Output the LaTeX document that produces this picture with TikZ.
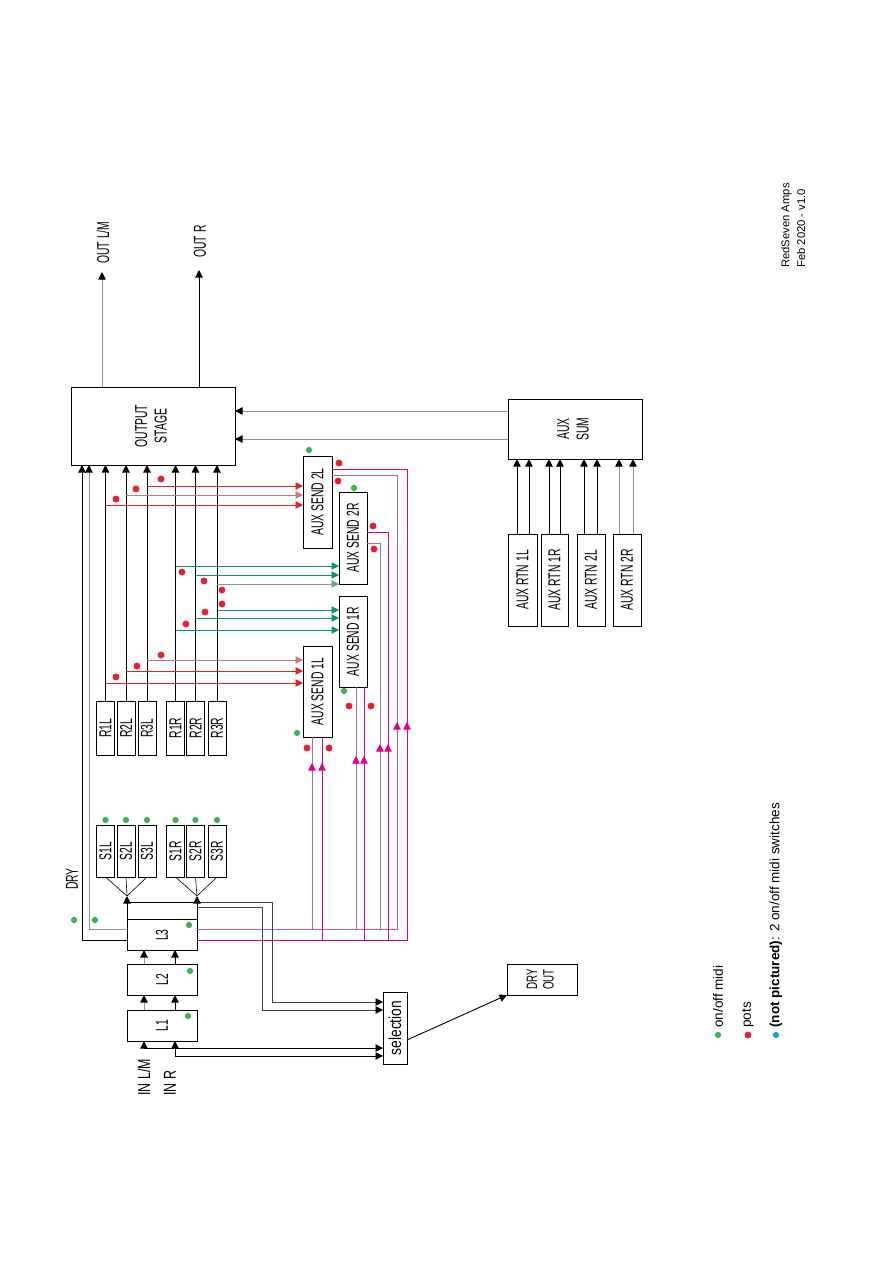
\documentclass[tikz,border=0pt]{standalone}
\usepackage{fontspec}
\setmainfont{Liberation Sans}
\usetikzlibrary{arrows.meta}

\definecolor{potred}{RGB}{232,30,40}
\definecolor{midigreen}{RGB}{60,180,75}
\definecolor{sendgreen}{RGB}{0,155,95}
\definecolor{sendmag}{RGB}{222,0,140}
\definecolor{graymag}{RGB}{175,105,150}
\definecolor{grayred}{RGB}{200,120,120}
\definecolor{graygreen}{RGB}{120,160,140}
\definecolor{midiblue}{RGB}{30,160,230}

\newcommand\pxu{0.6667pt}
\newcommand\vt[2][0.6]{\rotatebox{90}{\scalebox{#1}[1]{#2}}}
\newcommand\vtt[3][0.6]{\rotatebox{90}{\scalebox{#1}[1]{\begin{tabular}{@{}c@{}}#2\\#3\end{tabular}}}}

\tikzset{
  box/.style={draw, inner sep=0pt, outer sep=0pt, line width=0.6pt},
  sz/.style 2 args={minimum width=#1*\pxu, minimum height=#2*\pxu},
  wire/.style={line width=0.6pt},
  arr/.style={wire, -{Triangle[width=5pt,length=5pt]}},
  karr/.style={wire, -{Triangle[width=5pt,length=5pt,color=black]}},
  gwire/.style={draw=gray!85},
  redw/.style={draw=potred},
  gredw/.style={draw=grayred},
  grnw/.style={draw=sendgreen},
  ggrnw/.style={draw=graygreen},
  mag/.style={wire, draw=sendmag},
  gmag/.style={wire, draw=graymag},
  pot/.style={circle, fill=potred, inner sep=0pt, minimum size=4.6pt},
  midi/.style={circle, fill=midigreen, inner sep=0pt, minimum size=4.2pt},
  legend/.style={font=\fontsize{9}{11}\selectfont, inner sep=0pt, anchor=south}
}

\begin{document}
\begin{tikzpicture}[x=\pxu, y=-\pxu, font=\fontsize{11.5}{13}\selectfont]
  \fill[white] (0,0) rectangle (893,1263);
  \useasboundingbox (0,0) rectangle (893,1263);

  % levels used by the wiring
  \foreach \yy in {411,439,469,475,486,495,505,532,543,566,575,584,610,618,
                   630,660,671,683,722,744,756,763,907,929,940,1002,1010,1040,1048,1056}
    \coordinate (h\yy) at (0,\yy);
  \foreach \xx in {82,89,144,175,262,272,312,322,356,364,380,388,397,407,
                   517,529,549,560,584,597,619,633}
    \coordinate (v\xx) at (\xx,0);

  % main blocks
  \node[box, sz={164}{78}] (OS) at (153,426) {\vtt{OUTPUT}{STAGE}};
  \node[box, sz={134}{60}] (SUM) at (575,429) {\vtt{AUX}{SUM}};
  \node[box, sz={29}{92}] (A2L) at (317.5,502) {\vt{AUX SEND 2L}};
  \node[box, sz={28}{92}] (A2R) at (353,538) {\vt{AUX SEND 2R}};
  \node[box, sz={28}{91}] (A1R) at (353,641.5) {\vt{AUX SEND 1R}};
  \node[box, sz={29}{91}] (A1L) at (317.5,691.5) {\vt{AUX SEND 1L}};

  \foreach \nm/\xx/\ww in {1L/522.5/29, 1R/554.5/27, 2L/591/28, 2R/627/28}
    \node[box, sz={\ww}{92}] (RTN\nm) at (\xx,580) {\vt{AUX RTN \nm}};

  \foreach \nm/\xx in {1L/105.5, 2L/126, 3L/147, 1R/175.5, 2R/195.5, 3R/217} {
    \node[box, sz={18}{54}] (R\nm) at (\xx,728) {\vt{R\nm}};
    \node[box, sz={18}{52}] (S\nm) at (\xx,851) {\vt{S\nm}};
    \node[midi] (mS\nm) at (\xx,820) {};
  }

  \node[box, sz={70}{48}] (L3) at (162,926) {};
  \node (L3t) at (162,935) {\vt{L3}};
  \node[box, sz={70}{31}] (L2) at (162,979.5) {\vt{L2}};
  \node[box, sz={70}{31}] (L1) at (162,1025.5) {\vt{L1}};
  \node[box, sz={24}{72}] (SEL) at (395,1028) {\vt[0.8]{selection}};
  \node[box, sz={70}{31}, font=\fontsize{10}{11}\selectfont] (DRYOUT) at (542,979.5) {\vtt[0.65]{DRY}{OUT}};

  \coordinate (L3mid) at (162,919);
  \draw[wire] (L3.west |- L3mid) -- (L3.east |- L3mid);

  % outputs
  \coordinate (outLM) at (102,272);
  \coordinate (outR) at (199,270);
  \draw[karr, gwire] (OS.north -| outLM) -- (outLM);
  \draw[arr] (OS.north -| outR) -- (outR);
  \node[anchor=south, inner sep=0pt] (tOutLM) at (103,264) {\vt{OUT L/M}};
  \node[anchor=south, inner sep=0pt] (tOutR) at (200,258) {\vt{OUT R}};

  % into the output stage
  \draw[arr] (L3.west |- h940) -- (v82 |- h940) -- (v82 |- OS.south);
  \draw[karr, gwire] (L3.west |- h929) -- (v89 |- h929) -- (v89 |- OS.south);
  \foreach \nm in {1L,2L,3L,1R,2R,3R}
    \draw[arr] (R\nm.north) -- (R\nm.north |- OS.south);
  \draw[karr, gwire] (SUM.west |- h411) -- (OS.east |- h411);
  \draw[karr, gwire] (SUM.west |- h439) -- (OS.east |- h439);

  % aux returns
  \foreach \xa/\nm in {517/1L, 529/1L, 549/1R, 560/1R, 584/2L, 597/2L}
    \draw[arr] (v\xa |- RTN\nm.north) -- (v\xa |- SUM.south);
  \foreach \xa in {619,633}
    \draw[karr, gwire] (v\xa |- RTN2R.north) -- (v\xa |- SUM.south);

  % sends L
  \draw[arr, redw] (R3L.north |- h486) -- (A2L.west |- h486);
  \draw[arr, gredw] (R2L.north |- h495) -- (A2L.west |- h495);
  \draw[arr, redw] (R1L.north |- h505) -- (A2L.west |- h505);
  \draw[arr, gredw] (R3L.north |- h660) -- (A1L.west |- h660);
  \draw[arr, redw] (R2L.north |- h671) -- (A1L.west |- h671);
  \draw[arr, redw] (R1L.north |- h683) -- (A1L.west |- h683);

  % sends R
  \draw[arr, grnw] (R1R.north |- h566) -- (A2R.west |- h566);
  \draw[arr, grnw] (R2R.north |- h575) -- (A2R.west |- h575);
  \draw[arr, ggrnw] (R3R.north |- h584) -- (A2R.west |- h584);
  \draw[arr, grnw] (R3R.north |- h610) -- (A1R.west |- h610);
  \draw[arr, grnw] (R2R.north |- h618) -- (A1R.west |- h618);
  \draw[arr, grnw] (R1R.north |- h630) -- (A1R.west |- h630);

  % send feeds from L3
  \draw[mag] (A2L.east |- h469) -- (v407 |- h469) -- (v407 |- h940) -- (L3.east |- h940);
  \draw[gmag] (A2L.east |- h475) -- (v397 |- h475) -- (v397 |- h929) -- (L3.east |- h929);
  \draw[mag] (A2R.east |- h532) -- (v388 |- h532) -- (v388 |- h940);
  \draw[gmag] (A2R.east |- h543) -- (v380 |- h543) -- (v380 |- h929);
  \draw[gmag] (v356 |- A1R.south) -- (v356 |- h929);
  \draw[mag] (v364 |- A1R.south) -- (v364 |- h940);
  \draw[gmag] (v312 |- A1L.south) -- (v312 |- h929);
  \draw[mag] (v322 |- A1L.south) -- (v322 |- h940);
  \foreach \xa/\ya in {407/722, 397/722, 388/744, 380/744, 364/756, 356/756, 322/763, 312/763}
    \draw[mag, -{Triangle[width=5pt,length=5pt]}] (v\xa |- h\ya) ++(0,8) -- (v\xa |- h\ya);

  % L chain and inputs
  \draw[karr, gwire] (v144 |- L1.north) -- (v144 |- L2.south);
  \draw[arr] (v175 |- L1.north) -- (v175 |- L2.south);
  \draw[karr, gwire] (v144 |- L2.north) -- (v144 |- L3.south);
  \draw[arr] (v175 |- L2.north) -- (v175 |- L3.south);
  \draw[arr] (v144 |- h1048) -- (v144 |- L1.south);
  \draw[arr] (v144 |- h1048) -- (SEL.west |- h1048);
  \draw[arr] (v175 |- h1056) -- (v175 |- L1.south);
  \draw[arr] (v175 |- h1056) -- (SEL.west |- h1056);
  \node[anchor=south, inner sep=0pt] (tInLM) at (144,1096) {\vt[0.72]{IN L/M}};
  \node[anchor=south, inner sep=0pt] (tInR) at (170,1096) {\vt[0.72]{IN R}};

  % L3 to selection
  \draw[karr, draw=black!75] (L3.north east) -- (v272 |- L3.north) -- (v272 |- h1002) -- (SEL.west |- h1002);
  \draw[karr, draw=black!75] (L3.east |- h907) -- (v262 |- h907) -- (v262 |- h1010) -- (SEL.west |- h1010);
  \draw[arr] (SEL.east |- h1040) -- (DRYOUT.south west);

  % splits to S blocks
  \coordinate (tipL) at (127,896);
  \coordinate (tipR) at (197,896);
  \draw[arr] (L3.north west) -- (tipL);
  \draw[arr] (L3.north east) -- (tipR);
  \foreach \nm in {1L,2L,3L}
    \draw[line width=0.4pt] (S\nm.south) -- (tipL);
  \foreach \nm in {1R,2R,3R}
    \draw[line width=0.4pt] (S\nm.south) -- (tipR);

  \node[inner sep=0pt] (tDry) at (72,879) {\vt{DRY}};

  % pots
  \foreach \px/\py [count=\i] in {161/479, 136/489, 116/499, 182/572, 204/581, 222/590,
      222/604, 205/612, 186/624, 161/655, 137/666, 116/677, 339/463, 338/481,
      373/526, 374/549, 349/706, 371/706, 307/748, 329/748}
    \node[pot] (pot\i) at (\px,\py) {};

  % midi switches
  \foreach \px/\py [count=\i] in {74/920, 95/920, 189/925, 190/971, 188/1016,
      309/450, 354/488, 344/691, 297/733}
    \node[midi] (sw\i) at (\px,\py) {};

  % legend
  \node[midi] (lgMidi) at (718,1035) {};
  \node[pot] (lgPot) at (748,1035) {};
  \node[circle, fill=midiblue, inner sep=0pt, minimum size=4.2pt] (lgNp) at (776,1035) {};
  \node[legend] (ltMidi) at (718,1028) {\rotatebox{90}{on/off midi}};
  \node[legend] (ltPot) at (748,1028) {\rotatebox{90}{pots}};
  \node[legend] (ltNp) at (776,1028) {\rotatebox{90}{\textbf{(not pictured)}: 2 on/off midi switches}};

  \node[anchor=south, inner sep=0pt, font=\fontsize{7.5}{10.5}\selectfont] (credit) at (794,268)
    {\rotatebox{90}{\begin{tabular}{@{}l@{}}RedSeven Amps\\Feb 2020 - v1.0\end{tabular}}};
\end{tikzpicture}
\end{document}
